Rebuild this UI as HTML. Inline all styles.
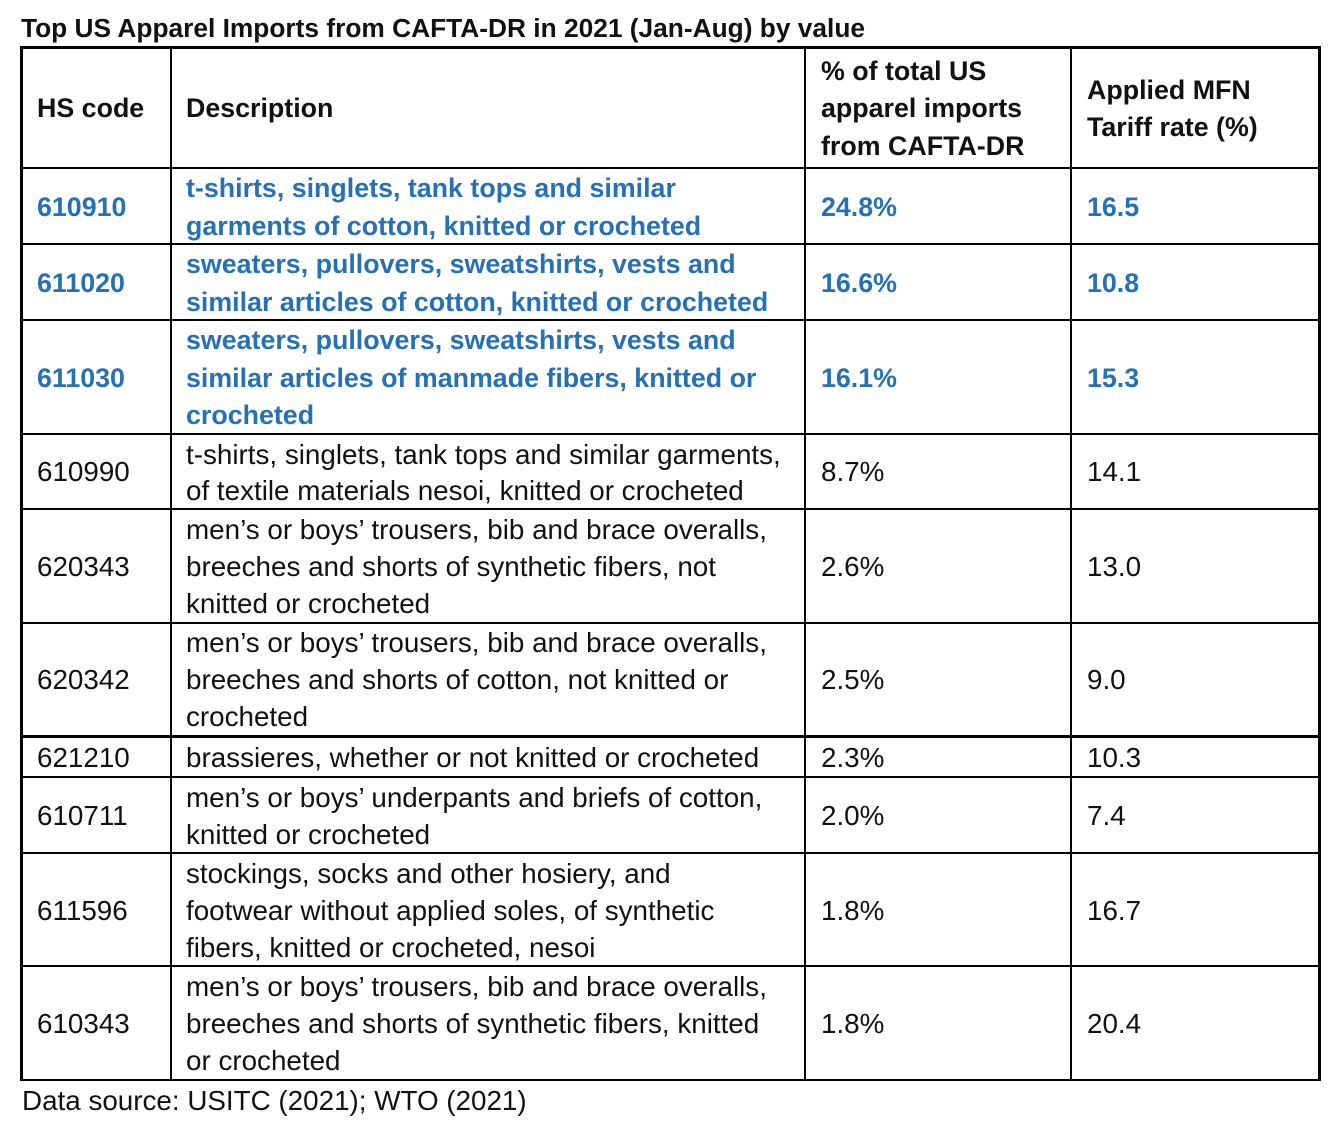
<!DOCTYPE html>
<html><head><meta charset="utf-8"><style>
body{margin:0;width:1340px;height:1142px;background:#fff;position:relative;font-family:"Liberation Sans",sans-serif;color:#111;overflow:hidden}
.h,.v{position:absolute;background:#000}
.h{height:2px;left:21px;width:1300px}
.v{width:2px;top:46px;height:1035px}
.t{position:absolute;font-size:27.8px;line-height:36px;white-space:nowrap;transform:translateY(-18px)}
.b{font-weight:bold;font-size:26.8px}
.bl{color:#2670b4;font-weight:bold;font-size:26.8px}
</style></head><body>
<div class="t b" style="left:21px;top:28px;font-size:26.3px">Top US Apparel Imports from CAFTA-DR in 2021 (Jan-Aug) by value</div>
<div class="h" style="top:46px;height:3px"></div>
<div class="h" style="top:167px"></div>
<div class="h" style="top:243px"></div>
<div class="h" style="top:319px"></div>
<div class="h" style="top:433px"></div>
<div class="h" style="top:508px"></div>
<div class="h" style="top:622px"></div>
<div class="h" style="top:735px;height:3px"></div>
<div class="h" style="top:776px"></div>
<div class="h" style="top:852px"></div>
<div class="h" style="top:965px"></div>
<div class="h" style="top:1079px"></div>
<div class="v" style="left:20px;width:3px"></div>
<div class="v" style="left:170px"></div>
<div class="v" style="left:804px"></div>
<div class="v" style="left:1070px"></div>
<div class="v" style="left:1318px;width:3px"></div>

<div class="t b" style="left:37px;top:108px">HS code</div>
<div class="t b" style="left:186px;top:108px">Description</div>
<div class="t b" style="left:821px;top:71px">% of total US</div>
<div class="t b" style="left:821px;top:108px">apparel imports</div>
<div class="t b" style="left:821px;top:146px">from CAFTA-DR</div>
<div class="t b" style="left:1087px;top:90px">Applied MFN</div>
<div class="t b" style="left:1087px;top:127px">Tariff rate (%)</div>

<div class="t bl" style="left:37px;top:207px">610910</div>
<div class="t bl" style="left:186px;top:188px">t-shirts, singlets, tank tops and similar</div>
<div class="t bl" style="left:186px;top:226px">garments of cotton, knitted or crocheted</div>
<div class="t bl" style="left:821px;top:207px">24.8%</div>
<div class="t bl" style="left:1087px;top:207px">16.5</div>

<div class="t bl" style="left:37px;top:283px">611020</div>
<div class="t bl" style="left:186px;top:264px">sweaters, pullovers, sweatshirts, vests and</div>
<div class="t bl" style="left:186px;top:302px">similar articles of cotton, knitted or crocheted</div>
<div class="t bl" style="left:821px;top:283px">16.6%</div>
<div class="t bl" style="left:1087px;top:283px">10.8</div>

<div class="t bl" style="left:37px;top:378px">611030</div>
<div class="t bl" style="left:186px;top:340px">sweaters, pullovers, sweatshirts, vests and</div>
<div class="t bl" style="left:186px;top:378px">similar articles of manmade fibers, knitted or</div>
<div class="t bl" style="left:186px;top:415px">crocheted</div>
<div class="t bl" style="left:821px;top:378px">16.1%</div>
<div class="t bl" style="left:1087px;top:378px">15.3</div>

<div class="t" style="left:37px;top:472px">610990</div>
<div class="t" style="left:186px;top:455px">t-shirts, singlets, tank tops and similar garments,</div>
<div class="t" style="left:186px;top:491px">of textile materials nesoi, knitted or crocheted</div>
<div class="t" style="left:821px;top:472px">8.7%</div>
<div class="t" style="left:1087px;top:472px">14.1</div>

<div class="t" style="left:37px;top:567px">620343</div>
<div class="t" style="left:186px;top:530px">men’s or boys’ trousers, bib and brace overalls,</div>
<div class="t" style="left:186px;top:567px">breeches and shorts of synthetic fibers, not</div>
<div class="t" style="left:186px;top:604px">knitted or crocheted</div>
<div class="t" style="left:821px;top:567px">2.6%</div>
<div class="t" style="left:1087px;top:567px">13.0</div>

<div class="t" style="left:37px;top:680px">620342</div>
<div class="t" style="left:186px;top:643px">men’s or boys’ trousers, bib and brace overalls,</div>
<div class="t" style="left:186px;top:680px">breeches and shorts of cotton, not knitted or</div>
<div class="t" style="left:186px;top:717px">crocheted</div>
<div class="t" style="left:821px;top:680px">2.5%</div>
<div class="t" style="left:1087px;top:680px">9.0</div>

<div class="t" style="left:37px;top:758px">621210</div>
<div class="t" style="left:186px;top:758px">brassieres, whether or not knitted or crocheted</div>
<div class="t" style="left:821px;top:758px">2.3%</div>
<div class="t" style="left:1087px;top:758px">10.3</div>

<div class="t" style="left:37px;top:816px">610711</div>
<div class="t" style="left:186px;top:798px">men’s or boys’ underpants and briefs of cotton,</div>
<div class="t" style="left:186px;top:835px">knitted or crocheted</div>
<div class="t" style="left:821px;top:816px">2.0%</div>
<div class="t" style="left:1087px;top:816px">7.4</div>

<div class="t" style="left:37px;top:911px">611596</div>
<div class="t" style="left:186px;top:874px">stockings, socks and other hosiery, and</div>
<div class="t" style="left:186px;top:911px">footwear without applied soles, of synthetic</div>
<div class="t" style="left:186px;top:948px">fibers, knitted or crocheted, nesoi</div>
<div class="t" style="left:821px;top:911px">1.8%</div>
<div class="t" style="left:1087px;top:911px">16.7</div>

<div class="t" style="left:37px;top:1024px">610343</div>
<div class="t" style="left:186px;top:987px">men’s or boys’ trousers, bib and brace overalls,</div>
<div class="t" style="left:186px;top:1024px">breeches and shorts of synthetic fibers, knitted</div>
<div class="t" style="left:186px;top:1061px">or crocheted</div>
<div class="t" style="left:821px;top:1024px">1.8%</div>
<div class="t" style="left:1087px;top:1024px">20.4</div>

<div class="t" style="left:22px;top:1101px">Data source: USITC (2021); WTO (2021)</div>
</body></html>
